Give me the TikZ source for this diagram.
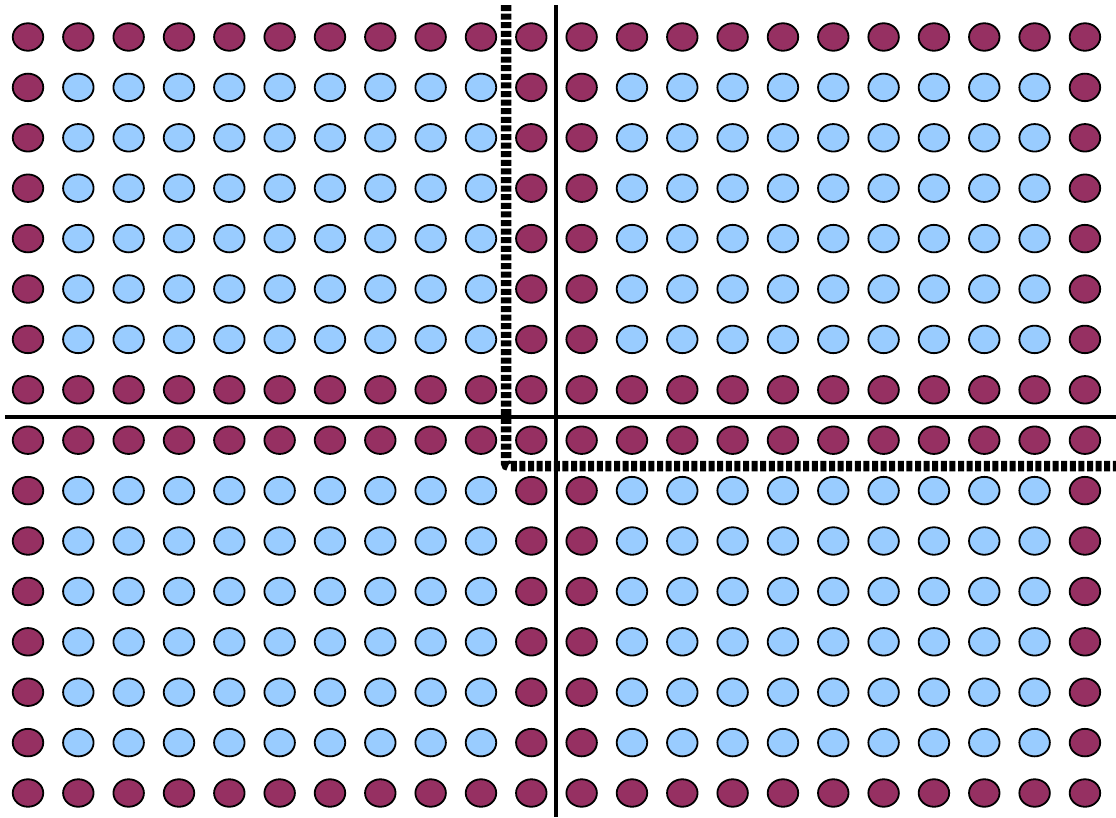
\documentclass[tikz,border=0pt]{standalone}
\usetikzlibrary{shapes.geometric}
\definecolor{plum}{RGB}{150,48,98}
\definecolor{sky}{RGB}{153,204,255}
\tikzset{
 dot/.style={ellipse, draw=black, line width=1.8pt, minimum width=30.5pt, minimum height=27.5pt, inner sep=0pt},
 edgedot/.style={dot, fill=plum},
 innerdot/.style={dot, fill=sky},
 axisline/.style={line width=3.5pt},
 boundline/.style={line width=10.5pt, dash pattern=on 6pt off 2.6pt},
}
\begin{document}
\begin{tikzpicture}[x=1pt,y=-1pt]
\useasboundingbox (0,0) rectangle (1116,817);
\foreach \i in {0,...,21}{
 \foreach \j in {0,...,15}{
  \pgfmathtruncatemacro{\ci}{mod(\i,11)}
  \pgfmathtruncatemacro{\rj}{mod(\j,8)}
  \pgfmathtruncatemacro{\isedge}{(\ci==0)||(\ci==10)||(\rj==0)||(\rj==7)}
  \ifnum\isedge=1 \def\st{edgedot}\else\def\st{innerdot}\fi
  \node[\st] (c-\i-\j) at ({28+50.33*\i},{37+50.4*\j}) {};
 }
}
\coordinate (vtop) at (556,5);
\coordinate (vbot) at (556,817);
\coordinate (hleft) at (5,417);
\coordinate (hright) at (1116,417);
\coordinate (dtop) at (506,5);
\coordinate (dcorner) at (506,466);
\coordinate (dright) at (1116,466);
\draw[axisline] (vtop) -- (vbot);
\draw[axisline] (hleft) -- (hright);
\draw[boundline, rounded corners=3pt] (dtop) -- (dcorner) -- (dright);
\end{tikzpicture}
\end{document}
